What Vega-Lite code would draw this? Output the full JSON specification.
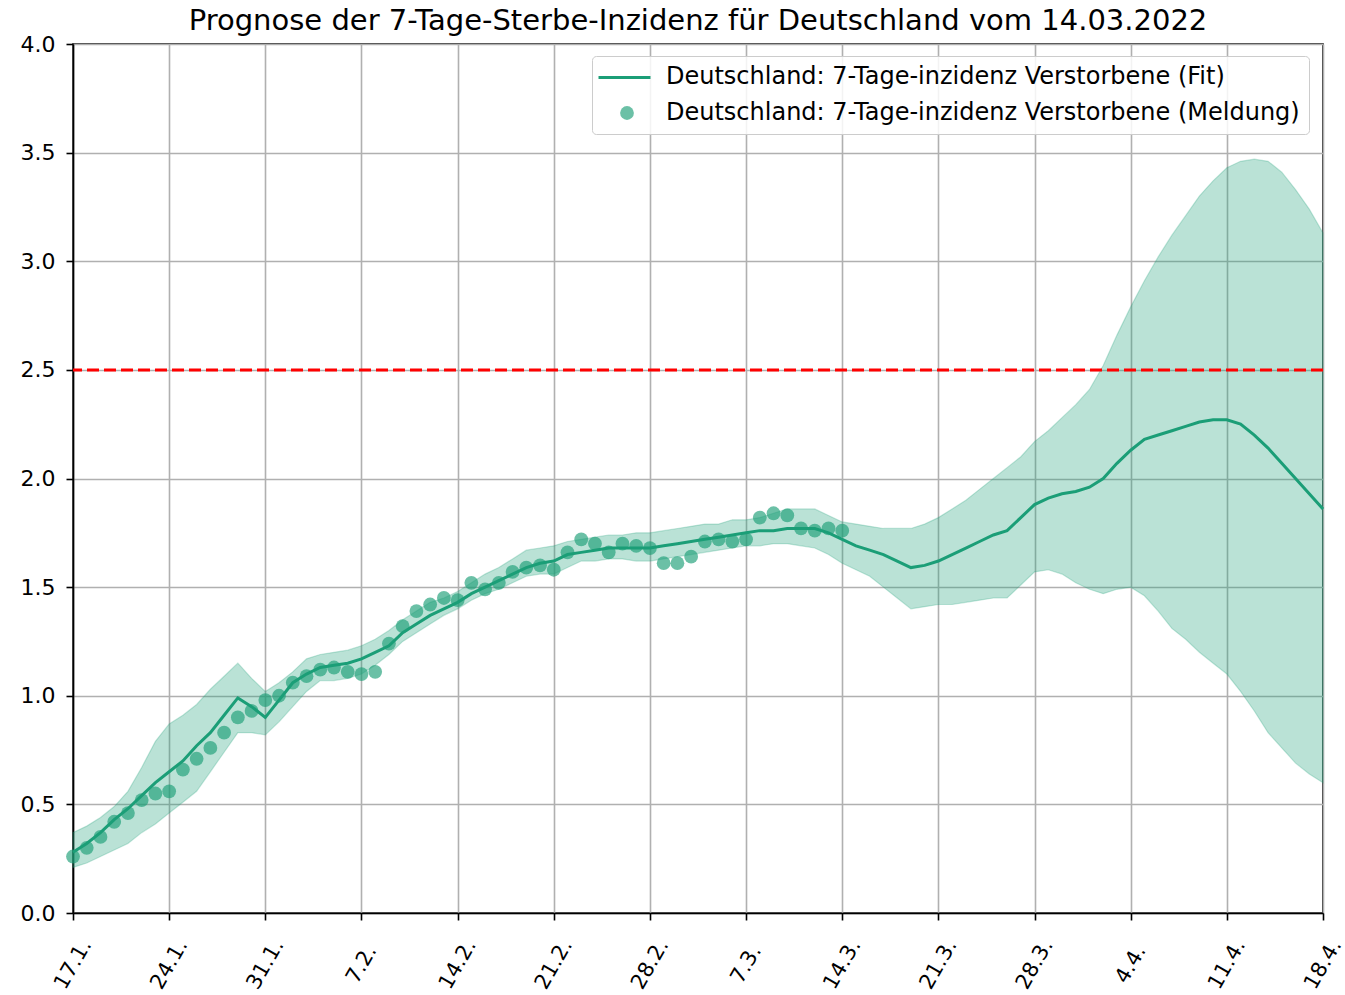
{
  "$schema": "https://vega.github.io/schema/vega-lite/v6.json",
  "width": 1250,
  "height": 869,
  "autosize": {"type": "none"},
  "padding": {"left": 73, "top": 44, "right": 22, "bottom": 82},
  "background": "white",
  "config": {
    "font": "DejaVu Sans",
    "view": {"stroke": "black", "strokeWidth": 1.6},
    "axis": {
      "labelFont": "DejaVu Sans",
      "labelFontSize": 22,
      "labelColor": "black",
      "tickColor": "black",
      "tickWidth": 1.6,
      "tickSize": 7,
      "domainColor": "black",
      "domainWidth": 1.6,
      "grid": true,
      "gridColor": "#b0b0b0",
      "gridWidth": 1.6,
      "title": null
    }
  },
  "title": {
    "text": "Prognose der 7-Tage-Sterbe-Inzidenz für Deutschland vom 14.03.2022",
    "font": "DejaVu Sans",
    "fontSize": 29,
    "fontWeight": "normal",
    "color": "black",
    "anchor": "middle",
    "offset": -3
  },
  "datasets": {
    "fit": [
      {"date": "2022-01-17", "fit": 0.28, "lo": 0.21, "hi": 0.37},
      {"date": "2022-01-18", "fit": 0.32, "lo": 0.23, "hi": 0.40},
      {"date": "2022-01-19", "fit": 0.37, "lo": 0.26, "hi": 0.44},
      {"date": "2022-01-20", "fit": 0.43, "lo": 0.29, "hi": 0.49},
      {"date": "2022-01-21", "fit": 0.48, "lo": 0.32, "hi": 0.56},
      {"date": "2022-01-22", "fit": 0.54, "lo": 0.37, "hi": 0.67},
      {"date": "2022-01-23", "fit": 0.60, "lo": 0.41, "hi": 0.79},
      {"date": "2022-01-24", "fit": 0.65, "lo": 0.46, "hi": 0.87},
      {"date": "2022-01-25", "fit": 0.70, "lo": 0.51, "hi": 0.91},
      {"date": "2022-01-26", "fit": 0.77, "lo": 0.56, "hi": 0.96},
      {"date": "2022-01-27", "fit": 0.83, "lo": 0.65, "hi": 1.03},
      {"date": "2022-01-28", "fit": 0.91, "lo": 0.74, "hi": 1.09},
      {"date": "2022-01-29", "fit": 0.99, "lo": 0.83, "hi": 1.15},
      {"date": "2022-01-30", "fit": 0.95, "lo": 0.83, "hi": 1.08},
      {"date": "2022-01-31", "fit": 0.90, "lo": 0.82, "hi": 1.02},
      {"date": "2022-02-01", "fit": 0.98, "lo": 0.88, "hi": 1.06},
      {"date": "2022-02-02", "fit": 1.06, "lo": 0.95, "hi": 1.11},
      {"date": "2022-02-03", "fit": 1.10, "lo": 1.02, "hi": 1.17},
      {"date": "2022-02-04", "fit": 1.13, "lo": 1.07, "hi": 1.19},
      {"date": "2022-02-05", "fit": 1.14, "lo": 1.07, "hi": 1.20},
      {"date": "2022-02-06", "fit": 1.15, "lo": 1.08, "hi": 1.21},
      {"date": "2022-02-07", "fit": 1.17, "lo": 1.10, "hi": 1.23},
      {"date": "2022-02-08", "fit": 1.20, "lo": 1.14, "hi": 1.26},
      {"date": "2022-02-09", "fit": 1.23, "lo": 1.19, "hi": 1.30},
      {"date": "2022-02-10", "fit": 1.29, "lo": 1.25, "hi": 1.35},
      {"date": "2022-02-11", "fit": 1.33, "lo": 1.29, "hi": 1.39},
      {"date": "2022-02-12", "fit": 1.37, "lo": 1.33, "hi": 1.43},
      {"date": "2022-02-13", "fit": 1.40, "lo": 1.37, "hi": 1.45},
      {"date": "2022-02-14", "fit": 1.43, "lo": 1.40, "hi": 1.48},
      {"date": "2022-02-15", "fit": 1.47, "lo": 1.44, "hi": 1.52},
      {"date": "2022-02-16", "fit": 1.50, "lo": 1.47, "hi": 1.56},
      {"date": "2022-02-17", "fit": 1.53, "lo": 1.49, "hi": 1.59},
      {"date": "2022-02-18", "fit": 1.56, "lo": 1.52, "hi": 1.63},
      {"date": "2022-02-19", "fit": 1.59, "lo": 1.55, "hi": 1.67},
      {"date": "2022-02-20", "fit": 1.61, "lo": 1.56, "hi": 1.68},
      {"date": "2022-02-21", "fit": 1.62, "lo": 1.56, "hi": 1.69},
      {"date": "2022-02-22", "fit": 1.65, "lo": 1.59, "hi": 1.71},
      {"date": "2022-02-23", "fit": 1.66, "lo": 1.62, "hi": 1.72},
      {"date": "2022-02-24", "fit": 1.67, "lo": 1.62, "hi": 1.73},
      {"date": "2022-02-25", "fit": 1.68, "lo": 1.63, "hi": 1.74},
      {"date": "2022-02-26", "fit": 1.68, "lo": 1.63, "hi": 1.74},
      {"date": "2022-02-27", "fit": 1.68, "lo": 1.62, "hi": 1.75},
      {"date": "2022-02-28", "fit": 1.68, "lo": 1.62, "hi": 1.75},
      {"date": "2022-03-01", "fit": 1.69, "lo": 1.63, "hi": 1.76},
      {"date": "2022-03-02", "fit": 1.70, "lo": 1.64, "hi": 1.77},
      {"date": "2022-03-03", "fit": 1.71, "lo": 1.65, "hi": 1.78},
      {"date": "2022-03-04", "fit": 1.72, "lo": 1.66, "hi": 1.79},
      {"date": "2022-03-05", "fit": 1.73, "lo": 1.67, "hi": 1.79},
      {"date": "2022-03-06", "fit": 1.74, "lo": 1.68, "hi": 1.81},
      {"date": "2022-03-07", "fit": 1.75, "lo": 1.69, "hi": 1.81},
      {"date": "2022-03-08", "fit": 1.76, "lo": 1.69, "hi": 1.82},
      {"date": "2022-03-09", "fit": 1.76, "lo": 1.70, "hi": 1.84},
      {"date": "2022-03-10", "fit": 1.77, "lo": 1.70, "hi": 1.86},
      {"date": "2022-03-11", "fit": 1.77, "lo": 1.69, "hi": 1.86},
      {"date": "2022-03-12", "fit": 1.77, "lo": 1.68, "hi": 1.86},
      {"date": "2022-03-13", "fit": 1.75, "lo": 1.65, "hi": 1.83},
      {"date": "2022-03-14", "fit": 1.72, "lo": 1.61, "hi": 1.80},
      {"date": "2022-03-15", "fit": 1.69, "lo": 1.58, "hi": 1.79},
      {"date": "2022-03-16", "fit": 1.67, "lo": 1.55, "hi": 1.78},
      {"date": "2022-03-17", "fit": 1.65, "lo": 1.50, "hi": 1.77},
      {"date": "2022-03-18", "fit": 1.62, "lo": 1.45, "hi": 1.77},
      {"date": "2022-03-19", "fit": 1.59, "lo": 1.40, "hi": 1.77},
      {"date": "2022-03-20", "fit": 1.60, "lo": 1.41, "hi": 1.79},
      {"date": "2022-03-21", "fit": 1.62, "lo": 1.42, "hi": 1.82},
      {"date": "2022-03-22", "fit": 1.65, "lo": 1.42, "hi": 1.86},
      {"date": "2022-03-23", "fit": 1.68, "lo": 1.43, "hi": 1.90},
      {"date": "2022-03-24", "fit": 1.71, "lo": 1.44, "hi": 1.95},
      {"date": "2022-03-25", "fit": 1.74, "lo": 1.45, "hi": 2.00},
      {"date": "2022-03-26", "fit": 1.76, "lo": 1.45, "hi": 2.05},
      {"date": "2022-03-27", "fit": 1.82, "lo": 1.51, "hi": 2.10},
      {"date": "2022-03-28", "fit": 1.88, "lo": 1.57, "hi": 2.17},
      {"date": "2022-03-29", "fit": 1.91, "lo": 1.58, "hi": 2.22},
      {"date": "2022-03-30", "fit": 1.93, "lo": 1.56, "hi": 2.28},
      {"date": "2022-03-31", "fit": 1.94, "lo": 1.52, "hi": 2.34},
      {"date": "2022-04-01", "fit": 1.96, "lo": 1.49, "hi": 2.41},
      {"date": "2022-04-02", "fit": 2.00, "lo": 1.47, "hi": 2.52},
      {"date": "2022-04-03", "fit": 2.07, "lo": 1.49, "hi": 2.66},
      {"date": "2022-04-04", "fit": 2.13, "lo": 1.50, "hi": 2.79},
      {"date": "2022-04-05", "fit": 2.18, "lo": 1.46, "hi": 2.91},
      {"date": "2022-04-06", "fit": 2.20, "lo": 1.39, "hi": 3.02},
      {"date": "2022-04-07", "fit": 2.22, "lo": 1.31, "hi": 3.12},
      {"date": "2022-04-08", "fit": 2.24, "lo": 1.26, "hi": 3.21},
      {"date": "2022-04-09", "fit": 2.26, "lo": 1.20, "hi": 3.30},
      {"date": "2022-04-10", "fit": 2.27, "lo": 1.15, "hi": 3.37},
      {"date": "2022-04-11", "fit": 2.27, "lo": 1.10, "hi": 3.43},
      {"date": "2022-04-12", "fit": 2.25, "lo": 1.02, "hi": 3.46},
      {"date": "2022-04-13", "fit": 2.20, "lo": 0.93, "hi": 3.47},
      {"date": "2022-04-14", "fit": 2.14, "lo": 0.83, "hi": 3.46},
      {"date": "2022-04-15", "fit": 2.07, "lo": 0.76, "hi": 3.41},
      {"date": "2022-04-16", "fit": 2.00, "lo": 0.69, "hi": 3.33},
      {"date": "2022-04-17", "fit": 1.93, "lo": 0.64, "hi": 3.24},
      {"date": "2022-04-18", "fit": 1.86, "lo": 0.60, "hi": 3.13}
    ],
    "obs": [
      {"date": "2022-01-17", "value": 0.26},
      {"date": "2022-01-18", "value": 0.30},
      {"date": "2022-01-19", "value": 0.35},
      {"date": "2022-01-20", "value": 0.42},
      {"date": "2022-01-21", "value": 0.46},
      {"date": "2022-01-22", "value": 0.52},
      {"date": "2022-01-23", "value": 0.55},
      {"date": "2022-01-24", "value": 0.56},
      {"date": "2022-01-25", "value": 0.66},
      {"date": "2022-01-26", "value": 0.71},
      {"date": "2022-01-27", "value": 0.76},
      {"date": "2022-01-28", "value": 0.83},
      {"date": "2022-01-29", "value": 0.90},
      {"date": "2022-01-30", "value": 0.93},
      {"date": "2022-01-31", "value": 0.98},
      {"date": "2022-02-01", "value": 1.00},
      {"date": "2022-02-02", "value": 1.06},
      {"date": "2022-02-03", "value": 1.09},
      {"date": "2022-02-04", "value": 1.12},
      {"date": "2022-02-05", "value": 1.13},
      {"date": "2022-02-06", "value": 1.11},
      {"date": "2022-02-07", "value": 1.10},
      {"date": "2022-02-08", "value": 1.11},
      {"date": "2022-02-09", "value": 1.24},
      {"date": "2022-02-10", "value": 1.32},
      {"date": "2022-02-11", "value": 1.39},
      {"date": "2022-02-12", "value": 1.42},
      {"date": "2022-02-13", "value": 1.45},
      {"date": "2022-02-14", "value": 1.44},
      {"date": "2022-02-15", "value": 1.52},
      {"date": "2022-02-16", "value": 1.49},
      {"date": "2022-02-17", "value": 1.52},
      {"date": "2022-02-18", "value": 1.57},
      {"date": "2022-02-19", "value": 1.59},
      {"date": "2022-02-20", "value": 1.60},
      {"date": "2022-02-21", "value": 1.58},
      {"date": "2022-02-22", "value": 1.66},
      {"date": "2022-02-23", "value": 1.72},
      {"date": "2022-02-24", "value": 1.70},
      {"date": "2022-02-25", "value": 1.66},
      {"date": "2022-02-26", "value": 1.70},
      {"date": "2022-02-27", "value": 1.69},
      {"date": "2022-02-28", "value": 1.68},
      {"date": "2022-03-01", "value": 1.61},
      {"date": "2022-03-02", "value": 1.61},
      {"date": "2022-03-03", "value": 1.64},
      {"date": "2022-03-04", "value": 1.71},
      {"date": "2022-03-05", "value": 1.72},
      {"date": "2022-03-06", "value": 1.71},
      {"date": "2022-03-07", "value": 1.72},
      {"date": "2022-03-08", "value": 1.82},
      {"date": "2022-03-09", "value": 1.84},
      {"date": "2022-03-10", "value": 1.83},
      {"date": "2022-03-11", "value": 1.77},
      {"date": "2022-03-12", "value": 1.76},
      {"date": "2022-03-13", "value": 1.77},
      {"date": "2022-03-14", "value": 1.76}
    ],
    "threshold": [
      {"level": 2.5}
    ]
  },
  "layer": [
    {
      "data": {"name": "fit"},
      "mark": {"type": "area", "color": "#1b9e77", "fillOpacity": 0.3, "stroke": "#1b9e77", "strokeOpacity": 0.25, "strokeWidth": 1.2},
      "encoding": {
        "x": {
          "field": "date", "type": "temporal",
          "scale": {"type": "utc", "domain": [{"year": 2022, "month": 1, "date": 17, "utc": true}, {"year": 2022, "month": 4, "date": 18, "utc": true}], "nice": false},
          "axis": {
            "values": [
              {"year": 2022, "month": 1, "date": 17, "utc": true},
              {"year": 2022, "month": 1, "date": 24, "utc": true},
              {"year": 2022, "month": 1, "date": 31, "utc": true},
              {"year": 2022, "month": 2, "date": 7, "utc": true},
              {"year": 2022, "month": 2, "date": 14, "utc": true},
              {"year": 2022, "month": 2, "date": 21, "utc": true},
              {"year": 2022, "month": 2, "date": 28, "utc": true},
              {"year": 2022, "month": 3, "date": 7, "utc": true},
              {"year": 2022, "month": 3, "date": 14, "utc": true},
              {"year": 2022, "month": 3, "date": 21, "utc": true},
              {"year": 2022, "month": 3, "date": 28, "utc": true},
              {"year": 2022, "month": 4, "date": 4, "utc": true},
              {"year": 2022, "month": 4, "date": 11, "utc": true},
              {"year": 2022, "month": 4, "date": 18, "utc": true}
            ],
            "format": "%-d.%-m.",
            "labelFontSize": 21,
            "labelAngle": -60,
            "labelAlign": "center",
            "labelBaseline": "middle",
            "labelPadding": 44,
            "labelOverlap": false,
            "labelFlush": false
          }
        },
        "y": {
          "field": "lo", "type": "quantitative",
          "scale": {"domain": [0, 4], "nice": false, "zero": true},
          "axis": {"values": [0, 0.5, 1, 1.5, 2, 2.5, 3, 3.5, 4], "format": ".1f", "labelPadding": 11}
        },
        "y2": {"field": "hi"}
      }
    },
    {
      "data": {"name": "threshold"},
      "mark": {"type": "rule", "color": "#ff0000", "strokeWidth": 3, "strokeDash": [12, 5]},
      "encoding": {
        "y": {"field": "level", "type": "quantitative"}
      }
    },
    {
      "data": {"name": "obs"},
      "mark": {"type": "point", "filled": true, "size": 190, "opacity": 0.65},
      "encoding": {
        "x": {"field": "date", "type": "temporal"},
        "y": {"field": "value", "type": "quantitative"},
        "fill": {
          "datum": "Deutschland: 7-Tage-inzidenz Verstorbene (Meldung)",
          "type": "nominal",
          "scale": {
            "domain": ["Deutschland: 7-Tage-inzidenz Verstorbene (Fit)", "Deutschland: 7-Tage-inzidenz Verstorbene (Meldung)"],
            "range": ["transparent", "#1b9e77"]
          },
          "legend": {
            "title": null,
            "orient": "none",
            "legendX": 519,
            "legendY": 12,
            "direction": "vertical",
            "zindex": 1,
            "fillColor": "rgba(255,255,255,0.85)",
            "strokeColor": "#cccccc",
            "cornerRadius": 4,
            "padding": 9,
            "labelFont": "DejaVu Sans",
            "labelFontSize": 24,
            "labelColor": "black",
            "labelLimit": 1000,
            "labelOffset": 27,
            "symbolOffset": 14,
            "rowPadding": 12,
            "symbolType": "circle",
            "symbolSize": 190
          }
        }
      }
    },
    {
      "data": {"name": "fit"},
      "mark": {"type": "line", "strokeWidth": 3},
      "encoding": {
        "x": {"field": "date", "type": "temporal"},
        "y": {"field": "fit", "type": "quantitative"},
        "stroke": {
          "datum": "Deutschland: 7-Tage-inzidenz Verstorbene (Fit)",
          "type": "nominal",
          "scale": {
            "domain": ["Deutschland: 7-Tage-inzidenz Verstorbene (Fit)"],
            "range": ["#1b9e77"]
          },
          "legend": {
            "title": null,
            "orient": "none",
            "legendX": 524,
            "legendY": 6,
            "zindex": 2,
            "padding": 0,
            "symbolType": "stroke",
            "symbolSize": 2700,
            "symbolStrokeWidth": 3,
            "symbolStrokeColor": "#1b9e77",
            "labelExpr": "''"
          }
        }
      }
    }
  ]
}
